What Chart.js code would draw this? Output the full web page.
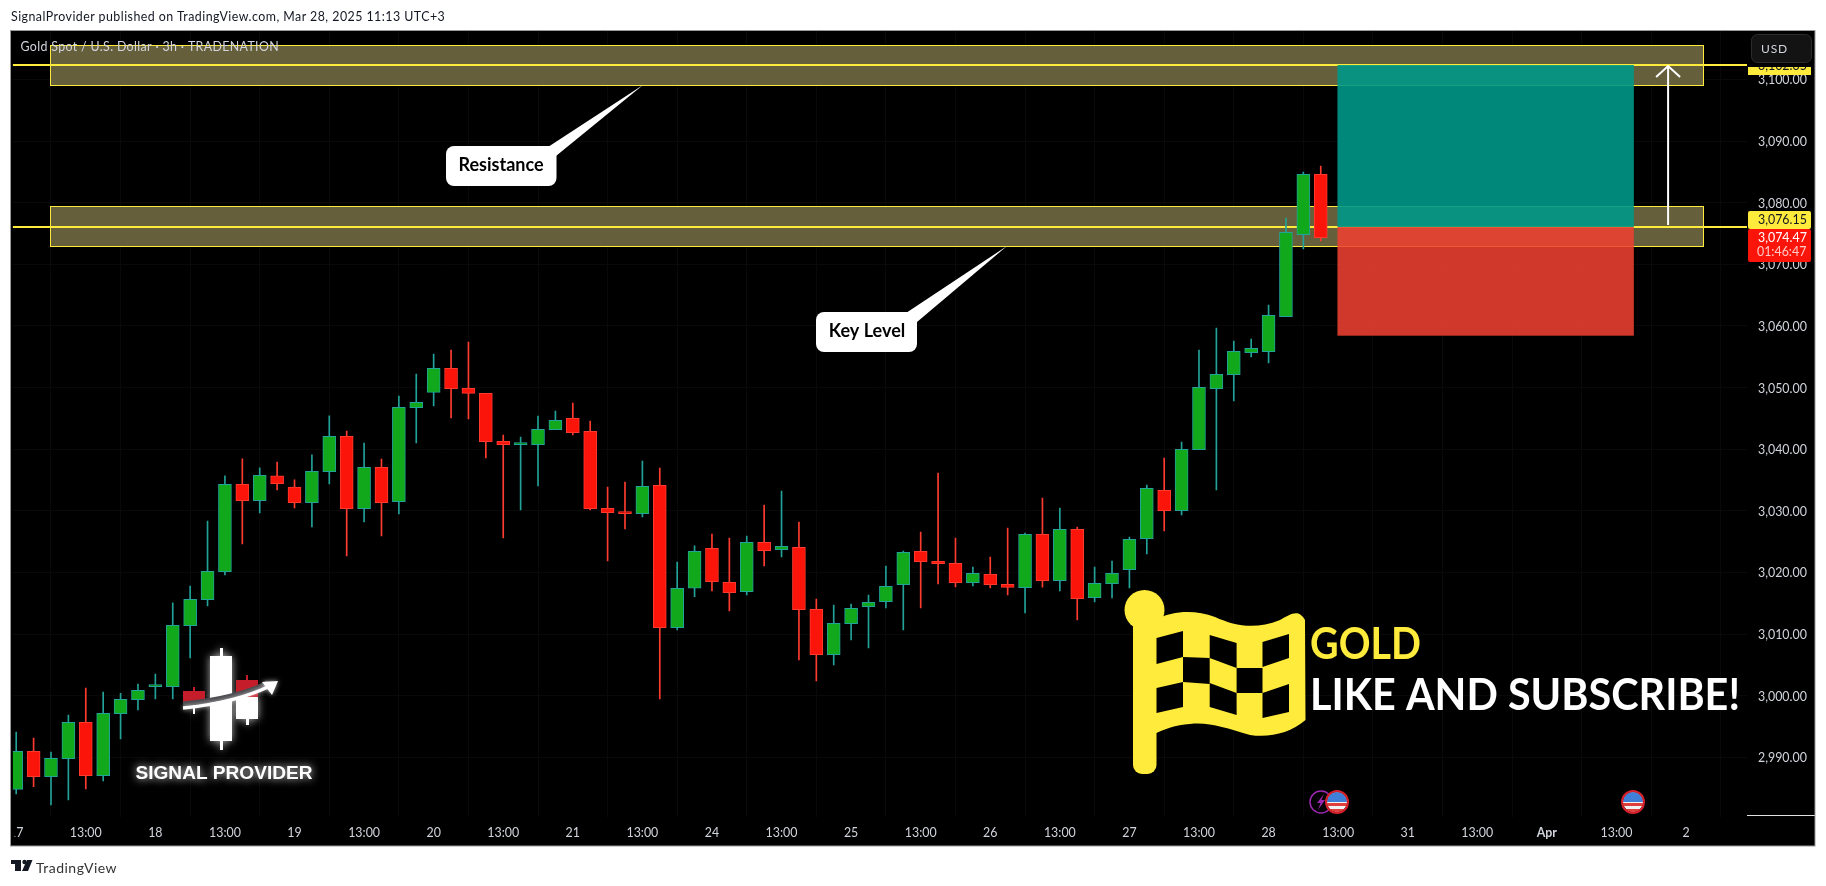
<!DOCTYPE html>
<html>
<head>
<meta charset="utf-8">
<title>Gold Spot / U.S. Dollar</title>
<script src="https://cdn.jsdelivr.net/npm/chart.js@4/dist/chart.umd.min.js"></script>
<style>
	html, body { margin: 0; padding: 0; background: #fff; overflow: hidden; }
	#mycanvas { position: absolute; left: 0; top: 0; display: block; }
	.note { position: absolute; font-family: Lato, sans-serif; color: #131722; white-space: nowrap; }
	#published { left: 11px; top: 9px; font-size: 12.4px; letter-spacing: 0.46px; }
	#brand { left: 36px; top: 859px; font-size: 14px; letter-spacing: 0.5px; color: #333; }
</style>
</head>
<body>
<canvas id="mycanvas" width="1826" height="886"></canvas>
<div class="note" id="published">SignalProvider published on TradingView.com, Mar 28, 2025 11:13 UTC+3</div>
<div class="note" id="brand">TradingView</div>
<script>
// 3h candles
var opens = [2984.80,2990.97,2986.86,2989.78,2995.68,2987.02,2997.08,2999.36,3001.46,3001.46,
	3011.37,3015.59,3020.13,3034.30,3031.65,3035.66,3033.87,3031.33,3036.36,3042.09,
	3030.35,3037.06,3031.49,3046.74,3049.23,3053.13,3049.88,3049.07,3041.28,3040.74,
	3040.74,3043.17,3045.01,3042.90,3030.41,3029.81,3029.54,3034.14,3011.04,3017.43,
	3023.92,3018.40,3016.88,3024.89,3023.70,3024.08,3014.02,3006.66,3011.69,3014.45,
	3015.26,3018.02,3023.43,3021.81,3021.48,3018.35,3019.70,3018.07,3017.53,3026.18,
	3018.66,3026.99,3015.90,3018.18,3020.45,3025.48,3033.32,3030.02,3039.92,3049.82,
	3052.10,3055.67,3055.83,3061.51,3074.82,3084.61];
var highs = [2994.11,2993.13,2990.86,2996.87,3001.25,3000.60,3000.38,3001.90,3003.52,3015.05,
	3017.80,3028.35,3035.66,3038.42,3036.96,3037.93,3035.01,3039.07,3045.40,3042.96,
	3041.01,3038.41,3048.64,3052.21,3055.45,3056.10,3057.40,3049.07,3042.31,3041.98,
	3045.39,3046.20,3047.50,3044.58,3033.87,3034.68,3038.09,3036.95,3021.70,3024.30,
	3026.24,3025.59,3025.92,3030.95,3033.22,3028.19,3015.69,3014.72,3014.88,3016.34,
	3021.05,3023.48,3026.57,3036.14,3025.59,3020.89,3022.51,3027.21,3026.40,3032.08,
	3030.46,3027.37,3020.88,3021.85,3025.75,3034.19,3038.57,3041.17,3056.10,3059.67,
	3057.56,3057.89,3063.40,3077.52,3084.99,3085.96];
var lows = [2984.05,2985.24,2982.26,2983.07,2984.86,2986.16,2992.97,2997.68,2999.46,2999.46,
	3006.12,3014.56,3019.59,3024.62,3029.65,3033.38,3030.46,3027.38,3034.36,3022.67,
	3028.19,3025.92,3029.49,3041.01,3047.02,3045.07,3044.91,3038.58,3025.59,3030.14,
	3034.03,3043.17,3042.31,3030.14,3021.86,3027.05,3029.00,2999.46,3010.66,3016.07,
	3016.99,3013.75,3016.34,3021.05,3022.51,3005.79,3002.39,3004.98,3009.04,3007.74,
	3014.23,3010.66,3014.23,3018.13,3017.64,3017.80,3017.48,3016.34,3013.42,3017.63,
	3016.99,3012.28,3015.20,3015.85,3017.47,3022.99,3026.72,3029.32,3039.92,3033.38,
	3047.82,3054.96,3053.99,3061.51,3072.49,3073.79];
var closes = [2990.97,2986.86,2989.83,2995.68,2987.02,2997.14,2999.41,3000.87,3001.52,3011.42,
	3015.64,3020.18,3034.30,3031.65,3035.77,3034.41,3031.33,3036.41,3042.10,3030.35,
	3037.06,3031.33,3046.80,3047.61,3053.13,3049.83,3049.07,3041.23,3040.74,3040.79,
	3043.23,3044.69,3042.69,3030.35,3029.70,3029.54,3033.98,3011.04,3017.43,3023.43,
	3018.51,3016.72,3024.89,3023.54,3024.24,3013.96,3006.66,3011.74,3014.18,3015.15,
	3017.75,3023.27,3021.75,3021.43,3018.35,3019.86,3018.02,3017.58,3026.18,3018.66,
	3026.99,3015.74,3018.23,3019.85,3025.37,3033.65,3030.02,3039.98,3050.04,3052.15,
	3055.88,3056.37,3061.73,3075.20,3084.61,3074.33];

var timeLabels = ["17","13:00","18","13:00","19","13:00","20","13:00","21","13:00","24","13:00",
	"25","13:00","26","13:00","27","13:00","28","13:00","31","13:00","Apr","13:00","2"];
var priceTicks = [2990,3000,3010,3020,3030,3040,3050,3060,3070,3080,3090,3100];

var barsPerLabel = 4;
var xMin = -0.19, xMax = 99.506;
var yMin = 2980.36, yMax = 3107.87;

var resistanceZone = [3105.55, 3098.99];
var keyZone = [3079.42, 3072.87];
var zoneBars = [1.96, 97.0];
var entryLevel = 3076.06, targetLevel = 3102.35, stopLevel = 3058.42;
var entryTag = 3076.15, targetTag = 3102.35, lastTag = 3074.47;
var countdown = "01:46:47";
var positionBars = [75.96, 93.0];
var arrowBar = 94.97;

var UP = "#12a81c", UP_EDGE = "#22a298";
var DOWN = "#fa1409", DOWN_EDGE = "#ff3b30";
var YELLOW = "#ffeb3b", TEXT = "#d1d4dc";
var FONT = "Lato, sans-serif";

var wicks = [], bodies = [], wickColors = [], bodyColors = [], edgeColors = [];
for (var i in opens) {
	var up = closes[i] >= opens[i];
	wicks.push({ x: +i, y: [lows[i], highs[i]] });
	bodies.push({ x: +i, y: [opens[i], closes[i]] });
	wickColors.push(up ? UP_EDGE : DOWN_EDGE);
	bodyColors.push(up ? UP : DOWN);
	edgeColors.push(up ? UP_EDGE : DOWN_EDGE);
}

function roundRect(ctx, x, y, w, h, r) {
	ctx.beginPath();
	ctx.roundRect(x, y, w, h, r);
}

function poly(ctx, pts) {
	ctx.beginPath();
	ctx.moveTo(pts[0][0], pts[0][1]);
	for (var k = 1; k < pts.length; k++) ctx.lineTo(pts[k][0], pts[k][1]);
	ctx.closePath();
	ctx.fill();
}

function callout(ctx, x, y, w, h, tail, text, cx, cy) {
	ctx.fillStyle = "#fff";
	roundRect(ctx, x, y, w, h, 8);
	ctx.fill();
	poly(ctx, tail);
	ctx.fillStyle = "#000";
	ctx.font = "bold 18px " + FONT;
	ctx.textAlign = "center";
	ctx.textBaseline = "middle";
	ctx.fillText(text, cx, cy);
}

function drawZones(chart) {
	var ctx = chart.ctx, xs = chart.scales.x, ys = chart.scales.y;
	var a = chart.chartArea;
	[resistanceZone, keyZone].forEach(function(z) {
		var x0 = xs.getPixelForValue(zoneBars[0]), x1 = xs.getPixelForValue(zoneBars[1]);
		var y0 = ys.getPixelForValue(z[0]), y1 = ys.getPixelForValue(z[1]);
		ctx.fillStyle = "#665f3b";
		ctx.fillRect(x0, y0, x1 - x0, y1 - y0);
		ctx.strokeStyle = YELLOW;
		ctx.lineWidth = 1;
		ctx.strokeRect(Math.round(x0) + 0.5, Math.round(y0) + 0.5, Math.round(x1 - x0), Math.round(y1 - y0));
	});
	ctx.strokeStyle = YELLOW;
	ctx.lineWidth = 2;
	[targetLevel, entryLevel].forEach(function(p) {
		var y = Math.round(ys.getPixelForValue(p));
		ctx.beginPath();
		ctx.moveTo(a.left, y);
		ctx.lineTo(a.right, y);
		ctx.stroke();
	});
	// long position box
	var px0 = xs.getPixelForValue(positionBars[0]), px1 = xs.getPixelForValue(positionBars[1]);
	var yT = ys.getPixelForValue(targetLevel), yE = ys.getPixelForValue(entryLevel), yS = ys.getPixelForValue(stopLevel);
	ctx.fillStyle = "rgba(0,152,136,0.9)";
	ctx.fillRect(px0, yT, px1 - px0, yE - yT);
	ctx.fillStyle = "rgba(239,64,49,0.87)";
	ctx.fillRect(px0, yE, px1 - px0, yS - yE);
	// arrow
	var ax = xs.getPixelForValue(arrowBar);
	ctx.strokeStyle = "#fff";
	ctx.lineWidth = 2;
	ctx.beginPath();
	ctx.moveTo(ax, yE - 2);
	ctx.lineTo(ax, yT + 1);
	ctx.moveTo(ax - 12, yT + 12);
	ctx.lineTo(ax, yT + 1);
	ctx.lineTo(ax + 12, yT + 12);
	ctx.stroke();
}

function drawLogo(ctx) {
	ctx.save();
	ctx.shadowColor = "rgba(255,255,255,0.7)";
	ctx.shadowBlur = 8;
	ctx.fillStyle = "#fff";
	ctx.fillRect(210, 656, 22, 85);
	ctx.fillRect(220, 648, 3, 102);
	ctx.fillRect(236, 696, 22, 23);
	ctx.fillRect(246, 715, 3, 10);
	ctx.fillRect(193, 704, 2, 10);
	ctx.shadowBlur = 0;
	ctx.fillStyle = "#c51d2a";
	ctx.fillRect(183, 691, 22, 12);
	ctx.fillRect(193, 687, 2, 5);
	ctx.fillRect(236, 680, 22, 17);
	ctx.fillRect(246, 675, 2, 6);
	// swoosh
	ctx.lineCap = "butt";
	ctx.strokeStyle = "#45454a";
	ctx.lineWidth = 5;
	ctx.beginPath();
	ctx.moveTo(183, 704);
	ctx.quadraticCurveTo(235, 699, 268, 683);
	ctx.stroke();
	ctx.shadowColor = "rgba(255,255,255,0.7)";
	ctx.shadowBlur = 5;
	ctx.strokeStyle = "#fff";
	ctx.lineWidth = 3.5;
	ctx.beginPath();
	ctx.moveTo(183, 708);
	ctx.quadraticCurveTo(235, 703, 270, 686);
	ctx.stroke();
	ctx.fillStyle = "#fff";
	poly(ctx, [[278, 681], [262, 682], [272, 695]]);
	ctx.shadowColor = "rgba(255,255,255,0.95)";
	ctx.shadowBlur = 8;
	ctx.font = "bold 19.2px 'Liberation Sans', sans-serif";
	ctx.textAlign = "center";
	ctx.textBaseline = "middle";
	ctx.fillText("SIGNAL PROVIDER", 224, 774, 177);
	ctx.restore();
}

function hole(ctx, x1, x2, t1, t2, b1, b2) {
	poly(ctx, [[x1, t1], [x2, t2], [x2, b2], [x1, b1]]);
}

function drawFlag(ctx) {
	ctx.fillStyle = YELLOW;
	ctx.beginPath();
	ctx.arc(1144.5, 610, 20, 0, Math.PI * 2);
	ctx.fill();
	roundRect(ctx, 1133, 610, 23.5, 164, [0, 0, 9, 9]);
	ctx.fill();
	ctx.beginPath();
	ctx.moveTo(1154, 620);
	ctx.bezierCurveTo(1175, 610, 1195, 610, 1215, 617);
	ctx.bezierCurveTo(1235, 626, 1255, 630, 1280, 620);
	ctx.bezierCurveTo(1290, 615, 1298, 608, 1305, 620);
	ctx.lineTo(1305.5, 720);
	ctx.bezierCurveTo(1290, 733, 1270, 738, 1250, 735);
	ctx.bezierCurveTo(1225, 728, 1210, 722, 1190, 724);
	ctx.bezierCurveTo(1175, 725, 1165, 729, 1154, 734);
	ctx.closePath();
	ctx.fill();
	// checker squares
	ctx.fillStyle = "#000";
	hole(ctx, 1156.5, 1183, 638, 631, 664, 657);
	hole(ctx, 1209.7, 1236.6, 635, 643, 658, 668);
	hole(ctx, 1262.5, 1289, 642, 634, 667, 658);
	hole(ctx, 1183, 1209.7, 657, 658, 682, 684);
	hole(ctx, 1236.6, 1262.5, 668, 668, 693, 693);
	hole(ctx, 1156.5, 1183, 688, 682, 713, 707);
	hole(ctx, 1209.7, 1236.6, 683, 693, 707, 715);
	hole(ctx, 1262.5, 1289, 693, 684, 718, 712);

	ctx.textAlign = "left";
	ctx.textBaseline = "alphabetic";
	ctx.font = "bold 43px " + FONT;
	ctx.fillStyle = YELLOW;
	ctx.fillText("GOLD", 1310, 659, 111);
	ctx.fillStyle = "#fff";
	ctx.fillText("LIKE AND SUBSCRIBE!", 1310, 710, 430);
}

function eventBadge(ctx, x, y) {
	ctx.fillStyle = "#f2f2f2";
	ctx.beginPath();
	ctx.ellipse(x, y, 10, 10, 0, 0, Math.PI * 2);
	ctx.fill();
	ctx.save();
	ctx.clip();
	ctx.fillStyle = "#e0403c";
	ctx.fillRect(x - 10, y + 1, 20, 3);
	ctx.fillRect(x - 10, y + 7, 20, 3);
	ctx.fillStyle = "#3f7fd8";
	ctx.fillRect(x - 10, y - 10, 20, 10);
	ctx.restore();
	ctx.strokeStyle = "#d8202c";
	ctx.lineWidth = 2;
	ctx.beginPath();
	ctx.ellipse(x, y, 11, 11, 0, 0, Math.PI * 2);
	ctx.stroke();
}

function drawEvents(ctx) {
	ctx.strokeStyle = "#9c27b0";
	ctx.lineWidth = 1.5;
	ctx.beginPath();
	ctx.arc(1321, 802, 11, 0, Math.PI * 2);
	ctx.stroke();
	ctx.fillStyle = "#9c27b0";
	poly(ctx, [[1324, 794], [1317, 803], [1320.5, 803], [1318, 810], [1325, 800], [1321.5, 800]]);
	eventBadge(ctx, 1337, 802);
	eventBadge(ctx, 1633, 802);
}

function priceText(v) {
	return v.toLocaleString("en-US", { minimumFractionDigits: 2, maximumFractionDigits: 2 });
}

function drawAxisTags(chart) {
	var ctx = chart.ctx;
	ctx.textAlign = "left";
	ctx.textBaseline = "middle";
	ctx.font = "12.4px " + FONT;

	// clipped target tag
	ctx.save();
	ctx.beginPath();
	ctx.rect(1748, 67, 63, 8);
	ctx.clip();
	ctx.fillStyle = YELLOW;
	ctx.fillRect(1748, 67, 63, 8);
	ctx.fillStyle = "#131722";
	ctx.fillText(priceText(targetTag), 1758, 66);
	ctx.restore();

	ctx.fillStyle = YELLOW;
	roundRect(ctx, 1748, 211, 63, 18, 2);
	ctx.fill();
	ctx.fillStyle = "#131722";
	ctx.fillText(priceText(entryTag), 1758, 219.5);

	ctx.fillStyle = "#fa1409";
	roundRect(ctx, 1748, 229, 63, 33, 2);
	ctx.fill();
	ctx.fillStyle = "#fff";
	ctx.fillText(priceText(lastTag), 1758, 237.5);
	ctx.fillStyle = "#ffc9c4";
	ctx.fillText(countdown, 1757, 252);

	// currency button
	ctx.fillStyle = "#131313";
	ctx.strokeStyle = "#2c2c2c";
	ctx.lineWidth = 1;
	roundRect(ctx, 1751.5, 34.5, 60, 28, 6);
	ctx.fill();
	ctx.stroke();
	ctx.fillStyle = TEXT;
	ctx.font = "12px " + FONT;
	ctx.letterSpacing = "0.8px";
	ctx.fillText("USD", 1761, 49);
	ctx.letterSpacing = "0px";

	// little white rule under the price column
	ctx.strokeStyle = "#e0e0e0";
	ctx.beginPath();
	ctx.moveTo(1747, 815.5);
	ctx.lineTo(1815, 815.5);
	ctx.stroke();

	// the first date label is cut by the pane edge in the original
	ctx.fillStyle = "#000";
	ctx.fillRect(11, 820, 3.5, 22);
}

function drawPageFrame(chart) {
	var ctx = chart.ctx;
	ctx.fillStyle = "#fff";
	ctx.fillRect(0, 0, 1826, 30);
	ctx.fillRect(0, 846, 1826, 40);
	ctx.fillRect(0, 0, 11, 886);
	ctx.fillRect(1815, 0, 11, 886);
	ctx.strokeStyle = "#9a9a9a";
	ctx.lineWidth = 1;
	ctx.strokeRect(10.5, 30.5, 1804.5, 815.5);
	// TradingView mark
	ctx.fillStyle = "#131722";
	ctx.fillRect(11, 860, 10, 4);
	ctx.fillRect(15, 860, 6, 11);
	ctx.beginPath();
	ctx.arc(24.5, 862, 2.2, 0, Math.PI * 2);
	ctx.fill();
	poly(ctx, [[27, 860], [32.5, 860], [28, 871], [22, 871]]);
}

var chartDecor = {
	id: "chartDecor",
	beforeDraw: function(chart) {
		chart.ctx.fillStyle = "#000";
		chart.ctx.fillRect(11, 30, 1804, 816);
	},
	beforeDatasetsDraw: function(chart) {
		drawZones(chart);
	},
	afterDatasetsDraw: function(chart) {
		var ctx = chart.ctx;
		ctx.save();
		ctx.fillStyle = TEXT;
		ctx.font = "12.4px " + FONT;
		ctx.letterSpacing = "0.35px";
		ctx.textAlign = "left";
		ctx.textBaseline = "middle";
		ctx.fillText("Gold Spot / U.S. Dollar \u00b7 3h \u00b7 TRADENATION", 20.5, 47);
		ctx.letterSpacing = "0px";
		callout(ctx, 446, 146, 110.5, 40, [[548, 147], [643, 85], [556, 156]], "Resistance", 501, 165);
		callout(ctx, 816, 312, 101, 40, [[906, 313], [1007, 246], [917, 322]], "Key Level", 867, 331);
		drawLogo(ctx);
		drawFlag(ctx);
		drawEvents(ctx);
		ctx.restore();
	},
	afterDraw: function(chart) {
		chart.ctx.save();
		drawAxisTags(chart);
		drawPageFrame(chart);
		chart.ctx.restore();
	}
};

var ctx = document.getElementById("mycanvas");

var CandleChart = new Chart(ctx, {
	type: "bar",
	plugins: [chartDecor],
	data: {
		datasets: [
			{
				label: "Body",
				data: bodies,
				grouped: false,
				order: 1,
				barThickness: 13,
				backgroundColor: bodyColors,
				borderColor: edgeColors,
				borderWidth: 1,
				borderSkipped: false,
				minBarLength: 2
			},
			{
				label: "Wick",
				data: wicks,
				grouped: false,
				order: 2,
				barThickness: 1,
				backgroundColor: wickColors,
				borderWidth: 0
			}
		]
	},
	options: {
		responsive: false,
		animation: false,
		devicePixelRatio: 1,
		layout: { padding: { left: 11, top: 31, right: 11, bottom: 40 } },
		plugins: { legend: { display: false }, tooltip: { enabled: false } },
		scales: {
			x: {
				type: "linear",
				offset: false,
				min: xMin,
				max: xMax,
				border: { display: false },
				grid: { color: "#090909", drawTicks: false },
				afterBuildTicks: function(scale) {
					scale.ticks = timeLabels.map(function(t, n) {
						return { value: n * barsPerLabel };
					});
				},
				afterFit: function(scale) { scale.height = 29.3; },
				ticks: {
					autoSkip: false,
					maxRotation: 0,
					padding: 9,
					color: TEXT,
					font: function(c) {
						var isMonth = c.tick && timeLabels[c.tick.value / barsPerLabel] === "Apr";
						return { family: "Lato, sans-serif", size: 12.4, weight: isMonth ? "bold" : "normal" };
					},
					callback: function(v) { return timeLabels[v / barsPerLabel]; }
				}
			},
			y: {
				position: "right",
				min: yMin,
				max: yMax,
				border: { display: false },
				grid: { color: "#090909", drawTicks: false },
				afterBuildTicks: function(scale) {
					scale.ticks = priceTicks.map(function(p) { return { value: p }; });
				},
				afterFit: function(scale) {
					scale.width = 68;
					// price labels sit a pixel lower than middle baseline gives
					if (!scale.shifted) {
						var drawLabels = scale.drawLabels;
						scale.drawLabels = function(area) {
							scale.ctx.save();
							scale.ctx.translate(0, 1);
							drawLabels.call(scale, area);
							scale.ctx.restore();
						};
						scale.shifted = true;
					}
				},
				ticks: {
					padding: 11,
					color: TEXT,
					font: { family: "Lato, sans-serif", size: 12.4 },
					callback: function(v) { return priceText(v); }
				}
			}
		}
	}
});
</script>
</body>
</html>
